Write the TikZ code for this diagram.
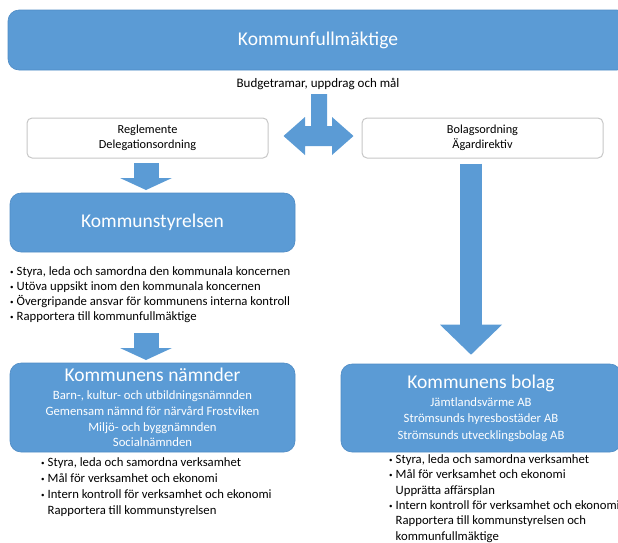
\documentclass[tikz,border=0pt]{standalone}
\usepackage{fontspec}
\setmainfont{Carlito}
\usetikzlibrary{arrows.meta,calc}
\definecolor{boxblue}{HTML}{5B9BD5}
\definecolor{boxedge}{HTML}{4F8BC4}
\newcommand\bl{\makebox[6.5pt][l]{\raisebox{1pt}{\fontsize{7}{7}\selectfont\textbullet}}}
\newcommand\nb{\makebox[6.5pt][l]{}}
\newcommand\bigf{\fontsize{19.5}{22}\selectfont}
\begin{document}
\begin{tikzpicture}[x=1pt,y=-1pt,
  bluebox/.style={draw=boxedge, line width=0.6pt, fill=boxblue, rounded corners=11pt, text=white, align=center, inner sep=0pt},
  whitebox/.style={draw=black!22, line width=1pt, fill=white, rounded corners=5pt, align=center, inner sep=0pt, font=\fontsize{12.3}{14.5}\selectfont},
  title/.style={font=\bigf},
  listtext/.style={align=left, inner sep=0pt, anchor=north west, font=\fontsize{12.7}{15.3}\selectfont},
  blk/.style={draw=boxblue, line width=25pt, -{Triangle[length=12pt 0 0, width=52pt 0 0, line width=0pt 0 0]}},
  blkshape/.style={fill=boxblue, draw=none}
]
\useasboundingbox (0,0) rectangle (618,542);
\clip (0,0) rectangle (618,542);

% top box
\node[bluebox, minimum width=620pt, minimum height=60pt, title] (kf) at (318,40) {Kommunfullmäktige};
\node[font=\fontsize{13}{15}\selectfont, inner sep=0pt] (bud) at (318,84) {Budgetramar, uppdrag och mål};

% white boxes
\node[whitebox, minimum width=241pt, minimum height=40pt] (reg) at (147.5,138) {Reglemente\\Delegationsordning};
\node[whitebox, minimum width=241pt, minimum height=40pt] (bol) at (482.5,138) {Bolagsordning\\Ägardirektiv};

% double arrow with stem (block shape between reg and bol)
\coordinate (dl) at ($(reg.east)+(15,-2)$);
\coordinate (dr) at ($(bol.west)+(-8,-2)$);
\fill[blkshape] (311,94) -- (327,94) -- (327,126) -- (332,126) -- (332,117) -- (dr)
  -- (332,155) -- (332,146) -- (305,146) -- (305,155) -- (dl) -- (305,117)
  -- (305,126) -- (311,126) -- cycle;

% Kommunstyrelsen
\node[bluebox, minimum width=285pt, minimum height=59pt, title] (ks) at (152.5,222.5) {Kommunstyrelsen};
\node[listtext] (ksl) at (10,266) {\bl Styra, leda och samordna den kommunala koncernen\\
\bl Utöva uppsikt inom den kommunala koncernen\\
\bl Övergripande ansvar för kommunens interna kontroll\\
\bl Rapportera till kommunfullmäktige};

\coordinate (a1s) at (146,163);
\coordinate (a1e) at (146,190);
\draw[blk] (a1s) -- (a1e);

% Kommunens nämnder
\node[bluebox, minimum width=285pt, minimum height=89pt, font=\fontsize{12.7}{15.6}\selectfont] (nam) at (152.5,407.5) {%
{\bigf Kommunens nämnder}\\[2.5pt]
Barn-, kultur- och utbildningsnämnden\\
Gemensam nämnd för närvård Frostviken\\
Miljö- och byggnämnden\\
Socialnämnden};
\node[listtext, font=\fontsize{12.7}{16}\selectfont] (naml) at (41,457) {\bl Styra, leda och samordna verksamhet\\
\bl Mål för verksamhet och ekonomi\\
\bl Intern kontroll för verksamhet och ekonomi\\
\nb Rapportera till kommunstyrelsen};

\coordinate (a2s) at (146,333);
\coordinate (a2e) at (146,360);
\draw[blk] (a2s) -- (a2e);

% Kommunens bolag
\node[bluebox, minimum width=280pt, minimum height=88pt, font=\fontsize{12.7}{16.5}\selectfont] (bolag) at (481,408) {%
{\bigf Kommunens bolag}\\[1.5pt]
Jämtlandsvärme AB\\
Strömsunds hyresbostäder AB\\
Strömsunds utvecklingsbolag AB};
\node[listtext, font=\fontsize{12.7}{15.3}\selectfont] (bolagl) at (389,454.5) {\bl Styra, leda och samordna verksamhet\\
\bl Mål för verksamhet och ekonomi\\
\nb Upprätta affärsplan\\
\bl Intern kontroll för verksamhet och ekonomi\\
\nb Rapportera till kommunstyrelsen och\\
\nb kommunfullmäktige};

\draw[blk, line width=22pt, -{Triangle[length=30pt 0 0, width=62pt 0 0, line width=0pt 0 0]}] ([yshift=-5pt]bol.south -| 471,0) -- ([yshift=9pt]bolag.north -| 471,0);
\end{tikzpicture}
\end{document}
